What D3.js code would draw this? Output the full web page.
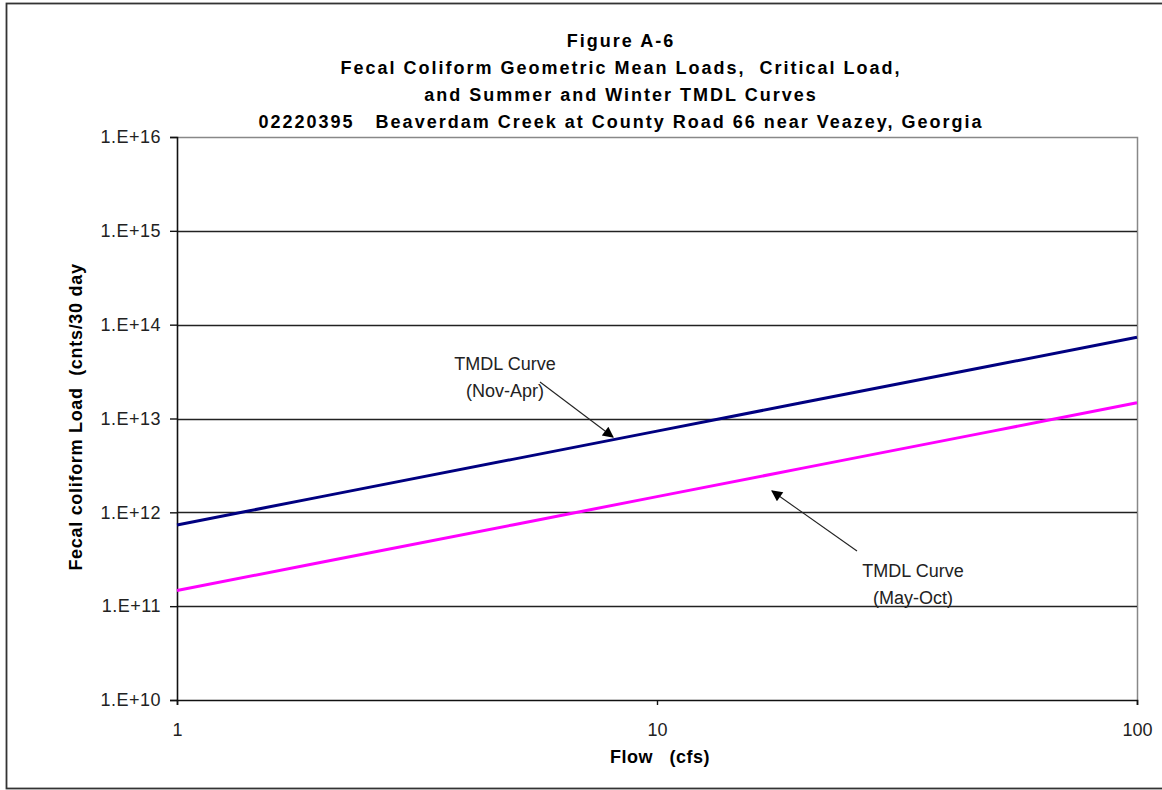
<!DOCTYPE html>
<html>
<head>
<meta charset="utf-8">
<script src="https://cdn.jsdelivr.net/npm/d3@7"></script>
<style>
  html, body { margin: 0; padding: 0; background: #fff; }
  svg { display: block; font-family: Arial, "Liberation Sans", sans-serif; }
</style>
</head>
<body>
<svg id="chart" width="1162" height="790"></svg>
<script>
// Flow (cfs) at the points where each TMDL curve is evaluated
const flows = [1, 2, 5, 10, 20, 50, 100];
// Winter (Nov-Apr) TMDL load, counts per 30 days
const winterLoads = [7.34e11, 1.47e12, 3.67e12, 7.34e12, 1.47e13, 3.67e13, 7.34e13];
// Summer (May-Oct) TMDL load, counts per 30 days
const summerLoads = [1.47e11, 2.94e11, 7.34e11, 1.47e12, 2.94e12, 7.34e12, 1.47e13];

const yTicks = [1e10, 1e11, 1e12, 1e13, 1e14, 1e15, 1e16];
const yTickLabels = ["1.E+10", "1.E+11", "1.E+12", "1.E+13", "1.E+14", "1.E+15", "1.E+16"];
const xTicks = [1, 10, 100];
const xTickLabels = ["1", "10", "100"];

const titleLines = [
  "Figure A-6",
  "Fecal Coliform Geometric Mean Loads,  Critical Load,",
  "and Summer and Winter TMDL Curves",
  "02220395   Beaverdam Creek at County Road 66 near Veazey, Georgia"
];

const FONT = "Arial, 'Liberation Sans', sans-serif";
const svg = d3.select("#chart");
const plot = { left: 177, right: 1137, top: 137, bottom: 700 };

const x = d3.scaleLog().domain([1, 100]).range([plot.left, plot.right]);
const y = d3.scaleLog().domain([1e10, 1e16]).range([plot.bottom, plot.top]);

// outer chart frame
svg.append("rect")
  .attr("x", 6.5).attr("y", 3.5).attr("width", 1300).attr("height", 785)
  .attr("fill", "none").attr("stroke", "#333").attr("stroke-width", 1.8);

// title block
const title = svg.append("text")
  .attr("text-anchor", "middle")
  .attr("font-weight", "bold").attr("font-size", 18)
  .attr("letter-spacing", 2)
  .attr("fill", "#000")
  .style("white-space", "pre");
titleLines.forEach((t, i) => {
  title.append("tspan").attr("x", 621).attr("y", 47 + i * 27).text(t);
});

// plot area border (top and right edges in gray)
svg.append("path")
  .attr("d", `M${plot.left},${plot.top + 0.5}H${plot.right + 0.5}V${plot.bottom}`)
  .attr("fill", "none").attr("stroke", "#888").attr("stroke-width", 1.5);

// horizontal gridlines at each decade
svg.append("g").selectAll("line")
  .data(yTicks.filter(v => v < 1e16 && v > 1e10))
  .join("line")
  .attr("x1", plot.left).attr("x2", plot.right)
  .attr("y1", d => Math.round(y(d)) + 0.5).attr("y2", d => Math.round(y(d)) + 0.5)
  .attr("stroke", "#222").attr("stroke-width", 1.4);

// y axis
const yAxis = d3.axisLeft(y)
  .tickValues(yTicks)
  .tickFormat((d, i) => yTickLabels[i])
  .tickSize(7).tickPadding(9);
const gy = svg.append("g").attr("transform", `translate(${plot.left},0)`).call(yAxis);
gy.select(".domain").attr("stroke", "#111").attr("stroke-width", 1.6);
gy.selectAll(".tick line").attr("stroke", "#111").attr("stroke-width", 1.4);
gy.selectAll(".tick text").attr("font-size", 18).attr("fill", "#222")
  .attr("letter-spacing", 0.5).attr("font-family", FONT);

// x axis
const xAxis = d3.axisBottom(x)
  .tickValues(xTicks)
  .tickFormat((d, i) => xTickLabels[i])
  .tickSize(5).tickPadding(18);
const gx = svg.append("g").attr("transform", `translate(0,${plot.bottom})`).call(xAxis);
gx.select(".domain").attr("stroke", "#111").attr("stroke-width", 1.6);
gx.selectAll(".tick line").attr("stroke", "#111").attr("stroke-width", 1.4);
gx.selectAll(".tick text").attr("font-size", 18).attr("fill", "#222")
  .attr("font-family", FONT);

// axis titles
svg.append("text")
  .attr("x", 660).attr("y", 763)
  .attr("text-anchor", "middle").attr("font-weight", "bold").attr("font-size", 18)
  .attr("letter-spacing", 0.5)
  .style("white-space", "pre")
  .text("Flow   (cfs)");
svg.append("text")
  .attr("transform", "translate(82,417) rotate(-90)")
  .attr("text-anchor", "middle").attr("font-weight", "bold").attr("font-size", 18)
  .attr("letter-spacing", 0.7)
  .style("white-space", "pre")
  .text("Fecal coliform Load  (cnts/30 day");

// TMDL curves
const line = d3.line().x(d => x(d[0])).y(d => y(d[1]));
svg.append("path")
  .datum(d3.zip(flows, winterLoads))
  .attr("d", line).attr("fill", "none")
  .attr("stroke", "#000080").attr("stroke-width", 3);
svg.append("path")
  .datum(d3.zip(flows, summerLoads))
  .attr("d", line).attr("fill", "none")
  .attr("stroke", "#ff00ff").attr("stroke-width", 3);

// annotation arrows
const defs = svg.append("defs");
defs.append("marker")
  .attr("id", "arrowHead").attr("viewBox", "0 0 10 10")
  .attr("refX", 9).attr("refY", 5)
  .attr("markerWidth", 15).attr("markerHeight", 11)
  .attr("markerUnits", "userSpaceOnUse")
  .attr("orient", "auto")
  .append("path").attr("d", "M0,0L10,5L0,10Z").attr("fill", "#000");

svg.append("line")
  .attr("x1", 540).attr("y1", 382).attr("x2", 613).attr("y2", 437)
  .attr("stroke", "#222").attr("stroke-width", 1.1)
  .attr("marker-end", "url(#arrowHead)");
svg.append("line")
  .attr("x1", 857).attr("y1", 551).attr("x2", 772).attr("y2", 491)
  .attr("stroke", "#222").attr("stroke-width", 1.1)
  .attr("marker-end", "url(#arrowHead)");

const note = (cx, cy, lines) => {
  const t = svg.append("text").attr("text-anchor", "middle")
    .attr("font-size", 18).attr("fill", "#222");
  lines.forEach((s, i) => t.append("tspan").attr("x", cx).attr("y", cy + i * 27).text(s));
};
note(505, 370, ["TMDL Curve", "(Nov-Apr)"]);
note(913, 577, ["TMDL Curve", "(May-Oct)"]);
</script>
</body>
</html>
